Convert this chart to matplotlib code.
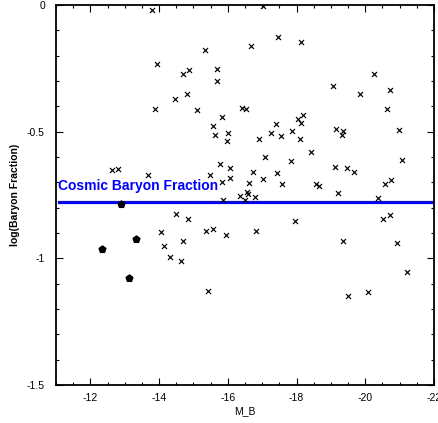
import matplotlib
matplotlib.use("Agg")
import matplotlib.pyplot as plt
from matplotlib.ticker import MultipleLocator, FixedLocator

plt.rcParams['font.family'] = ['Liberation Sans', 'DejaVu Sans']
plt.rcParams['axes.unicode_minus'] = False

# Galaxy sample: absolute B magnitude and log baryon fraction
mb_galaxies = [
    -13.79, -13.94, -14.69, -14.87, -14.46, -14.81, -13.88, -15.10, -15.33, -15.68,
    -15.68, -15.56, -15.62, -15.77, -15.48, -12.63, -12.80, -13.68, -17.02, -16.67,
    -17.45, -18.12, -20.24, -19.05, -19.86, -20.73, -20.62, -16.41, -16.53, -15.83,
    -18.03, -18.18, -18.12, -17.39, -16.00, -15.97, -16.90, -17.25, -17.54, -17.86,
    -18.09, -19.14, -19.34, -19.31, -20.97, -18.41, -17.07, -17.83, -21.08, -16.06,
    -16.73, -17.42, -19.11, -19.48, -19.66, -15.83, -16.06, -17.02, -16.62, -17.57,
    -18.58, -18.64, -20.56, -20.76, -16.35, -16.55, -16.58, -16.78, -19.22, -15.85,
    -16.49, -20.36, -17.95, -14.49, -14.84, -14.05, -14.69, -14.14, -15.36, -15.56,
    -14.31, -14.63, -15.42, -15.94, -16.81, -19.34, -19.51, -20.09, -20.53, -20.73,
    -20.91, -21.20,
]
logfb_galaxies = [
    -0.020, -0.233, -0.272, -0.257, -0.371, -0.351, -0.410, -0.414, -0.178, -0.253,
    -0.300, -0.478, -0.513, -0.627, -0.671, -0.651, -0.647, -0.671, -0.005, -0.162,
    -0.126, -0.146, -0.272, -0.320, -0.351, -0.335, -0.410, -0.406, -0.410, -0.442,
    -0.450, -0.434, -0.466, -0.470, -0.505, -0.537, -0.529, -0.505, -0.517, -0.497,
    -0.529, -0.489, -0.497, -0.513, -0.493, -0.580, -0.600, -0.616, -0.612, -0.643,
    -0.659, -0.663, -0.639, -0.643, -0.659, -0.698, -0.683, -0.687, -0.702, -0.706,
    -0.706, -0.714, -0.706, -0.691, -0.754, -0.738, -0.746, -0.758, -0.742, -0.770,
    -0.770, -0.762, -0.852, -0.825, -0.845, -0.896, -0.931, -0.951, -0.892, -0.884,
    -0.994, -1.010, -1.129, -0.908, -0.892, -0.931, -1.148, -1.133, -0.845, -0.829,
    -0.939, -1.054,
]

# Dwarf subsample shown with filled pentagons
mb_dwarfs = [-12.34, -12.89, -13.33, -13.12]
logfb_dwarfs = [-0.963, -0.785, -0.923, -1.077]

cosmic_logfb = -0.777
fit_logfb = -0.772

fig = plt.figure(figsize=(4.39, 4.23), dpi=100)
ax = fig.add_axes([56 / 439, 1 - 385 / 423, 378 / 439, 380 / 423])

ax.scatter(mb_galaxies, logfb_galaxies, marker='x', s=13, c='black',
           linewidths=0.85, zorder=3)
ax.scatter(mb_dwarfs, logfb_dwarfs, marker='p', s=26, c='black',
           edgecolors='black', zorder=3)

ax.axhline(cosmic_logfb, xmin=0.008, xmax=0.995, color='#0000ff', lw=2.3, zorder=2)
ax.axhline(fit_logfb, color='#333333', lw=0.5, ls=(0, (1, 1)), zorder=2.5)
ax.text(-11.07, cosmic_logfb + 0.035, 'Cosmic Baryon Fraction', color='#0000ff',
        fontsize=10, fontweight='bold', ha='left', va='bottom')

ax.set_xlim(-11, -22)
ax.set_ylim(-1.5, 0)

ax.xaxis.set_major_locator(FixedLocator([-12, -14, -16, -18, -20, -22]))
ax.xaxis.set_minor_locator(MultipleLocator(0.5))
ax.yaxis.set_major_locator(FixedLocator([0, -0.5, -1, -1.5]))
ax.yaxis.set_minor_locator(MultipleLocator(0.1))
ax.set_yticklabels(['0', '-0.5', '-1', '-1.5'])
ax.set_xticklabels(['-12', '-14', '-16', '-18', '-20', '-22'])

ax.tick_params(which='both', direction='in', top=True, right=True,
               labelsize=7.5, width=0.8)
ax.tick_params(axis='y', which='major', length=5, pad=8)
ax.tick_params(axis='x', which='major', length=5, pad=6)
ax.tick_params(which='minor', length=2.5)

for side in ax.spines.values():
    side.set_linewidth(1.3)

ax.set_xlabel('M_B', fontsize=7.5, labelpad=2)
ax.set_ylabel('log(Baryon Fraction)', fontsize=7.5, fontweight='bold', labelpad=5)

fig.savefig('out.png', dpi=100)
